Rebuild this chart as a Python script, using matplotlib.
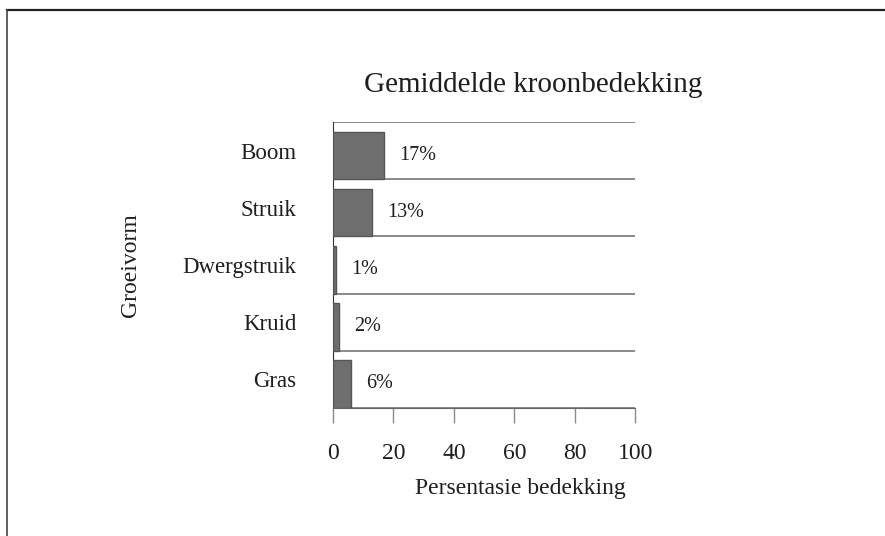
import matplotlib
matplotlib.use('Agg')
import matplotlib.pyplot as plt
from matplotlib.lines import Line2D

categories = ['Boom', 'Struik', 'Dwergstruik', 'Kruid', 'Gras']
values = [17, 13, 1, 2, 6]
xticks = [0, 20, 40, 60, 80, 100]

plt.rcParams['font.family'] = ['Liberation Serif', 'DejaVu Serif']
txt = '#1e1e1e'

fig = plt.figure(figsize=(8.85, 5.36), dpi=100)
ax = fig.add_axes([0.376, 0.239, 0.342, 0.533])

ypos = list(range(len(categories)))[::-1]
# bars sit on the bottom separator of their band, gap on top
ax.barh([y - 0.5 for y in ypos], values, height=0.83, align='edge',
        color='#6e6e6e', edgecolor='#555555', linewidth=1, zorder=3)

for y, v in zip(ypos, values):
    ax.annotate('%d%%' % v, (v, y - 0.08), xytext=(11, 0), textcoords='offset points',
                va='center', ha='left', fontsize=14.5, color=txt)

ax.set_xlim(0, 100)
ax.set_ylim(-0.5, len(categories) - 0.5)
ax.set_yticks(ypos)
ax.set_yticklabels(categories, fontsize=16.5, color=txt)
ax.set_xticks(xticks)
ax.set_xticklabels([str(t) for t in xticks], fontsize=17, color=txt)

# separators between categories
for b in range(len(categories) + 1):
    ax.axhline(b - 0.5, color='#6a6a6a', linewidth=1.1, zorder=1)

for s in ['top', 'right']:
    ax.spines[s].set_visible(False)
ax.spines['left'].set_color('#333333')
ax.spines['bottom'].set_color('#666666')
ax.tick_params(axis='y', length=0, pad=26)
ax.tick_params(axis='x', length=11, width=1, color='#8a8a8a', pad=14)

ax.set_xlabel('Persentasie bedekking', fontsize=17, color=txt)
ax.xaxis.set_label_coords(0.62, -0.245)
ax.set_ylabel('Groeivorm', fontsize=17, color=txt)
ax.yaxis.set_label_coords(-0.632, 0.5)

fig.text(0.603, 0.842, 'Gemiddelde kroonbedekking', ha='center', va='center',
         fontsize=21, color=txt)

# outer frame of the scanned page
fig.add_artist(Line2D([0.008, 1.0], [0.982, 0.982], color='#222222', linewidth=1.6))
fig.add_artist(Line2D([0.008, 0.008], [0.0, 0.982], color='#444444', linewidth=1.2))

fig.savefig('out.png', dpi=100)
